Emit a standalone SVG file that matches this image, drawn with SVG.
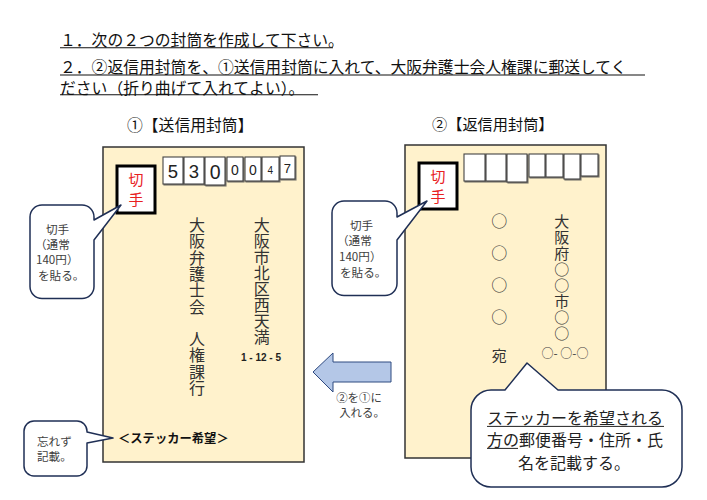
<svg xmlns="http://www.w3.org/2000/svg" width="707" height="500" viewBox="0 0 707 500">
<defs>
<style>
.jp{font-family:"Noto Sans CJK JP","Noto Sans",sans-serif;}
.h{font-size:15.8px;fill:#111;dominant-baseline:central;}
.ul{stroke:#111;stroke-width:1.1;}
.env{fill:#FFF2CC;stroke:#333;stroke-width:1.5;}
.stamp{fill:#fff;stroke:#000;stroke-width:3;}
.stxt{font-size:15px;fill:#E8201E;text-anchor:middle;dominant-baseline:central;}
.pbox{fill:#fff;stroke:#444;stroke-width:1.1;filter:url(#sh);}
.dg{font-family:"Liberation Sans",Arial,sans-serif;fill:#222;text-anchor:middle;}
.vt{writing-mode:vertical-rl;font-size:16px;fill:#333;}
.co{fill:#fff;stroke:#1F2F55;stroke-width:1.5;stroke-linejoin:round;}
.ct{font-size:11.6px;fill:#404040;dominant-baseline:central;}
.bt{font-size:16px;fill:#222;dominant-baseline:central;text-anchor:middle;}
</style>
<filter id="sh" x="-20%" y="-20%" width="150%" height="150%">
<feDropShadow dx="1" dy="1" stdDeviation="0.4" flood-color="#555" flood-opacity="0.8"/>
</filter>
</defs>
<rect width="707" height="500" fill="#fff"/>

<g id="header" class="jp">
<text class="h" x="60" y="39">１．次の２つの封筒を作成して下さい。</text>
<line class="ul" x1="60" y1="47.7" x2="333" y2="47.7"/>
<text class="h" x="60" y="66.2">２．②返信用封筒を、①送信用封筒に入れて、大阪弁護士会人権課に郵送してく</text>
<line class="ul" x1="60" y1="75" x2="645" y2="75"/>
<text class="h" x="60" y="87.3">ださい（折り曲げて入れてよい）。</text>
<line class="ul" x1="60" y1="94.8" x2="318" y2="94.8"/>
<text class="h" x="127" y="124">①【送信用封筒】</text>
<text class="h" x="432" y="123.3" style="font-size:15.2px">②【返信用封筒】</text>
</g>

<g id="envelope-send" class="jp">
<rect class="env" x="103" y="147" width="201" height="315"/>
<rect class="stamp" x="117" y="166" width="38" height="47"/>
<text class="stxt" x="136" y="178">切<tspan x="136" y="198">手</tspan></text>
<rect class="pbox" x="163" y="157" width="20" height="27"/>
<rect class="pbox" x="184" y="157" width="20" height="27"/>
<rect class="pbox" x="205" y="157" width="20" height="28"/>
<rect class="pbox" x="227" y="157" width="16" height="24"/>
<rect class="pbox" x="245" y="157" width="16" height="24"/>
<rect class="pbox" x="262" y="157" width="17" height="24"/>
<rect class="pbox" x="280" y="156" width="15" height="23"/>
<text class="dg" x="173" y="177.5" font-size="18.5">5</text>
<text class="dg" x="194" y="177.5" font-size="18.5">3</text>
<text class="dg" x="215.3" y="178.5" font-size="19.5">0</text>
<text class="dg" x="234.8" y="175.3" font-size="14">0</text>
<text class="dg" x="252.8" y="175.3" font-size="14">0</text>
<text class="dg" x="270.4" y="174" font-size="10">4</text>
<text class="dg" x="287.4" y="172.7" font-size="13">7</text>
<text class="vt" x="197" y="217" style="letter-spacing:0.3px">大阪弁護士会　人権課行</text>
<text class="vt" x="261.7" y="217">大阪市北区西天満</text>
<text x="261" y="360.5" font-family="Liberation Sans,Arial,sans-serif" font-weight="bold" font-size="10" fill="#222" text-anchor="middle">1 - 12 - 5</text>
<text x="118" y="437.5" style="font-size:12.3px;font-weight:bold;fill:#111;dominant-baseline:central">＜ステッカー希望＞</text>
</g>

<g id="envelope-return" class="jp">
<rect class="env" x="405" y="145" width="201" height="313"/>
<rect class="stamp" x="419" y="163" width="38" height="46"/>
<text class="stxt" x="438" y="175">切<tspan x="438" y="195">手</tspan></text>
<rect class="pbox" x="464" y="154" width="21" height="27"/>
<rect class="pbox" x="486" y="154" width="20" height="27"/>
<rect class="pbox" x="507" y="154" width="20" height="28"/>
<rect class="pbox" x="529" y="154" width="16" height="23"/>
<rect class="pbox" x="546" y="154" width="17" height="23"/>
<rect class="pbox" x="564" y="154" width="16" height="25"/>
<rect class="pbox" x="581" y="154" width="17" height="22"/>
<text class="vt" x="499.3" y="212.7">○　○　○　○</text>
<text x="499.3" y="354" style="font-size:15px;fill:#333;text-anchor:middle;dominant-baseline:central">宛</text>
<text class="vt" x="561.7" y="214.2" style="font-size:15px;letter-spacing:0.9px">大阪府○○市○○</text>
<text x="565" y="352" style="font-size:12px;fill:#404040;text-anchor:middle;dominant-baseline:central">○- ○-○</text>
</g>

<g id="connectors">
<polygon points="313,372 333,353 333,362 391,362 391,382 333,382 333,392" fill="#B4C7E7" stroke="#2F4A80" stroke-width="1"/>
<text class="jp ct" x="359" y="397" text-anchor="middle" style="font-size:11.4px">②を①に</text>
<text class="jp ct" x="362" y="411.6" text-anchor="middle" style="font-size:11.4px">入れる。</text>
</g>

<g id="callout-stamp-send" class="jp">
<path class="co" d="M42,205 H82 A12,12 0 0 1 94,217 V220 L121,205 L94,240 V286.5 A12,12 0 0 1 82,298.5 H42 A12,12 0 0 1 30,286.5 V217 A12,12 0 0 1 42,205 Z"/>
<text class="ct" x="46" y="229">切手</text>
<text class="ct" x="35" y="244.2">（通常</text>
<text class="ct" x="36" y="259.4">140円）</text>
<text class="ct" x="38" y="275">を貼る。</text>
</g>

<g id="callout-stamp-return" class="jp">
<path class="co" d="M344,201 H385 A12,12 0 0 1 397,213 V217 L427,201 L397,240 V283.5 A12,12 0 0 1 385,295.5 H344 A12,12 0 0 1 332,283.5 V213 A12,12 0 0 1 344,201 Z"/>
<text class="ct" x="350" y="224.5">切手</text>
<text class="ct" x="337" y="240">（通常</text>
<text class="ct" x="339" y="256">140円）</text>
<text class="ct" x="340" y="271.6">を貼る。</text>
</g>

<g id="callout-note" class="jp">
<path class="co" d="M34,421 H77 A10,10 0 0 1 87,431 V432 L113,438 L87,443 V466 A10,10 0 0 1 77,476 H34 A10,10 0 0 1 24,466 V431 A10,10 0 0 1 34,421 Z"/>
<text class="ct" x="37" y="440.7">忘れず</text>
<text class="ct" x="37" y="456">記載。</text>
</g>

<g id="callout-sticker" class="jp">
<path class="co" d="M491,390 H505 L527,363 L558,390 H662 A20,20 0 0 1 682,410 V467 A20,20 0 0 1 662,487 H491 A20,20 0 0 1 471,467 V410 A20,20 0 0 1 491,390 Z"/>
<text class="bt" x="575" y="417.4">ステッカーを希望される</text>
<line x1="487" y1="426.4" x2="664" y2="426.4" stroke="#222" stroke-width="1"/>
<text class="bt" x="575" y="439.4">方の郵便番号・住所・氏</text>
<line x1="487" y1="448.4" x2="518" y2="448.4" stroke="#222" stroke-width="1"/>
<text class="bt" x="574" y="461.6">名を記載する。</text>
</g>
</svg>
